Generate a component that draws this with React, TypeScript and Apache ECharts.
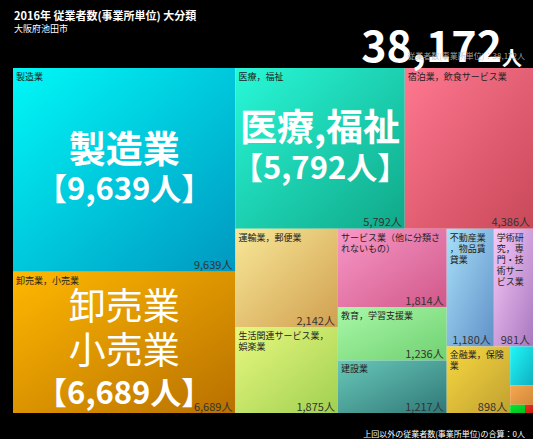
import React, { useEffect, useRef } from "react";
import * as echarts from "echarts";

const names = [
  "製造業",
  "卸売業，小売業",
  "医療，福祉",
  "宿泊業，飲食サービス業",
  "運輸業，郵便業",
  "生活関連サービス業，娯楽業",
  "サービス業（他に分類されないもの）",
  "教育，学習支援業",
  "建設業",
  "不動産業，物品賃貸業",
  "学術研究，専門・技術サービス業",
  "金融業，保険業",
  "情報通信業",
  "複合サービス事業",
  "電気・ガス・熱供給・水道業",
  "農業，林業",
];
const values = [9639, 6689, 5792, 4386, 2142, 1875, 1814, 1236, 1217, 1180, 981, 898, 188, 95, 26, 14];
const colorFrom = [
  "#00f8f8", "#ffb800", "#28f8d8", "#ff7890", "#f8e898", "#e8f880", "#f898c8", "#a8f8a8",
  "#68c8b8", "#a8e0f8", "#f8c8f8", "#f8d840", "#20f8f8", "#f8a850", "#00e830", "#e83020",
];
const colorTo = [
  "#0098c0", "#b87000", "#10a888", "#c84858", "#d0a050", "#a0d050", "#d05888", "#70d070",
  "#307878", "#6090c8", "#a878c0", "#c0a030", "#10b0c0", "#d08838", "#00c020", "#c02010",
];
const bigTitles: Record<string, string[]> = {
  "製造業": ["製造業"],
  "医療，福祉": ["医療,福祉"],
  "卸売業，小売業": ["卸売業", "小売業"],
};
const boldTitles = ["製造業", "医療，福祉"];
const hiddenLabels = ["情報通信業", "複合サービス事業", "電気・ガス・熱供給・水道業", "農業，林業"];

const title = "2016年 従業者数(事業所単位) 大分類";
const subtitle = "大阪府池田市";
const measure = "従業者数(事業所単位)";
const otherTotal = 0;

const FONT = "'Noto Sans CJK JP', 'Noto Sans', sans-serif";
const fmt = (v: number) => v.toLocaleString("en-US");

const LH: Record<string, number> = { tb: 40, t: 44, v: 40 };

export default function App() {
  const ref = useRef<HTMLDivElement>(null);
  useEffect(() => {
    if (!ref.current) return;
    const chart = echarts.init(ref.current, null, { renderer: "svg" });
    const total = values.reduce((a, b) => a + b, 0);

    const base = {
      type: "treemap",
      left: 13,
      top: 68,
      right: 0,
      bottom: 26,
      roam: false,
      nodeClick: false,
      silent: true,
      breadcrumb: { show: false },
      sort: "desc",
      emphasis: { disabled: true },
      itemStyle: { borderWidth: 0, gapWidth: 0 },
    };

    const dataFill = names.map((n, i) => ({
      name: n,
      value: values[i],
      itemStyle: {
        color: new echarts.graphic.LinearGradient(0, 0, 1, 1, [
          { offset: 0, color: colorFrom[i] },
          { offset: 1, color: colorTo[i] },
        ]),
      },
      label: { show: !hiddenLabels.includes(n) },
    }));
    const transparentData = (showFn: (n: string) => boolean) =>
      names.map((n, i) => ({
        name: n,
        value: values[i],
        itemStyle: { color: "rgba(0,0,0,0)", borderWidth: 0 },
        label: { show: showFn(n) },
      }));

    chart.setOption({
      animation: false,
      backgroundColor: "#000",
      title: [
        {
          text: title,
          subtext: subtitle,
          left: 9,
          top: 4,
          itemGap: 4,
          textStyle: { color: "#fff", fontSize: 11, fontWeight: "bold", fontFamily: FONT },
          subtextStyle: { color: "#fff", fontSize: 9, fontFamily: FONT },
        },
        {
          text: "{n|" + fmt(total) + "}{u|人}",
          right: 6,
          top: 14,
          textStyle: {
            rich: {
              n: { color: "#fff", fontSize: 43, fontWeight: "bold", fontFamily: FONT, lineHeight: 48 },
              u: { color: "#fff", fontSize: 20, fontFamily: FONT, verticalAlign: "bottom", lineHeight: 48 },
            },
          },
        },
        {
          text: measure + "：" + fmt(total) + "人",
          right: 3,
          top: 46,
          textStyle: { color: "rgba(190,190,190,0.85)", fontSize: 8, fontWeight: "normal", fontFamily: FONT },
        },
        {
          text: "上回以外の" + measure + "の合算：" + otherTotal + "人",
          right: 3,
          top: 424,
          textStyle: { color: "#fff", fontSize: 8, fontWeight: "normal", fontFamily: FONT },
        },
      ],
      series: [
        {
          ...base,
          data: dataFill,
          label: {
            show: true,
            position: "insideTopLeft",
            padding: [3, 3],
            color: "#222",
            fontSize: 9,
            lineHeight: 11,
            fontFamily: FONT,
            overflow: "break",
            formatter: "{b}",
          },
        },
        {
          ...base,
          data: transparentData((n) => !hiddenLabels.includes(n)),
          label: {
            show: true,
            position: "insideBottomRight",
            padding: [2, 3],
            color: "#333",
            fontSize: 11,
            fontFamily: FONT,
            overflow: "none",
            formatter: (p: any) => fmt(p.value) + "人",
          },
        },
        {
          ...base,
          data: transparentData((n) => !!bigTitles[n]),
          label: {
            show: true,
            position: "inside",
            padding: 0,
            overflow: "none",
            formatter: (p: any) => {
              const t = bigTitles[p.name];
              if (!t) return "";
              const cls = boldTitles.includes(p.name) ? "tb" : "t";
              return t.map((s) => "{" + cls + "|" + s + "}").join("\n") + "\n{v|【" + fmt(p.value) + "人】}";
            },
            rich: {
              tb: { color: "#fff", fontSize: 37, fontWeight: "bold", fontFamily: FONT, lineHeight: LH.tb },
              t: { color: "#fff", fontSize: 37, fontWeight: "normal", fontFamily: FONT, lineHeight: LH.t },
              v: { color: "#fff", fontSize: 31, fontWeight: "bold", fontFamily: FONT, lineHeight: LH.v },
            },
          },
          labelLayout: (params: any) => {
            const txt: string = params.text || "";
            if (!txt || !params.rect) return {};
            const lines = txt.split("\n");
            let h = 0;
            lines.forEach((ln) => {
              const m = ln.match(/^\{(\w+)\|/);
              h += m && LH[m[1]] ? LH[m[1]] : 0;
            });
            if (!h) return {};
            return { dy: Math.max(0, (params.rect.height - h) / 2 - 3 + (lines.length - 2) * 7) };
          },
        },
      ],
    });
    return () => chart.dispose();
  }, []);
  return (
    <div
      ref={ref}
      style={{ position: "fixed", left: 0, top: 0, width: 533, height: 439, background: "#000" }}
    />
  );
}
